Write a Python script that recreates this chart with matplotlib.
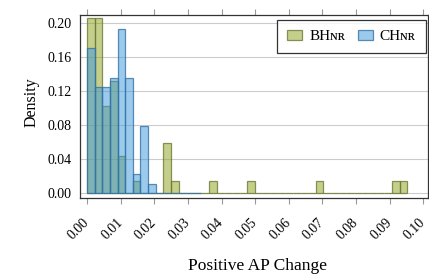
import matplotlib
matplotlib.use("Agg")
import matplotlib.pyplot as plt
from matplotlib.transforms import ScaledTranslation
import numpy as np

# ---- data ----
bin_width = 0.002268
bhnr_heights = [0.206, 0.206, 0.103, 0.132, 0.044, 0.0, 0.0147, 0.0, 0.0, 0.0,
                0.0588, 0.0147, 0.0, 0.0, 0.0, 0.0, 0.0147, 0.0, 0.0, 0.0,
                0.0, 0.0147, 0.0, 0.0, 0.0, 0.0, 0.0, 0.0, 0.0, 0.0,
                0.0147, 0.0, 0.0, 0.0, 0.0, 0.0, 0.0, 0.0, 0.0, 0.0,
                0.0147, 0.0147]
chnr_heights = [0.1705, 0.125, 0.125, 0.136, 0.193, 0.136, 0.0227, 0.0795, 0.0114,
                0.0, 0.0, 0.0, 0.0, 0.0, 0.0]
series_labels = ["BH\u0274\u0280", "CH\u0274\u0280"]
x_ticks = [0.00, 0.01, 0.02, 0.03, 0.04, 0.05, 0.06, 0.07, 0.08, 0.09, 0.10]
y_ticks = [0.00, 0.04, 0.08, 0.12, 0.16, 0.20]

serif = ["Liberation Serif", "DejaVu Serif"]
plt.rcParams["font.family"] = serif

fig = plt.figure(figsize=(4.29, 2.78), dpi=100)
ax = fig.add_axes([0.1865, 0.289, 0.811, 0.658])

green = (0.553, 0.631, 0.098)
blue = (0.224, 0.592, 0.867)

b_left = np.arange(len(bhnr_heights)) * bin_width
c_left = np.arange(len(chnr_heights)) * bin_width
ax.bar(b_left, bhnr_heights, width=bin_width, align="edge",
       facecolor=green + (0.5,), edgecolor=(0.42, 0.47, 0.2, 0.8), linewidth=0.9,
       label=series_labels[0], zorder=2)
ax.bar(c_left, chnr_heights, width=bin_width, align="edge",
       facecolor=blue + (0.5,), edgecolor=(0.2, 0.45, 0.65, 0.8), linewidth=0.9,
       label=series_labels[1], zorder=3)

ax.set_xlim(-0.0021, 0.1014)
ax.set_ylim(-0.0052, 0.21)
ax.set_xticks(x_ticks)
ax.set_xticklabels([f"{v:.2f}" for v in x_ticks], rotation=45, ha="right",
                   va="center", rotation_mode="anchor", fontsize=10)
shift = ScaledTranslation(-5 / 100, 0, fig.dpi_scale_trans)
for lab in ax.get_xticklabels():
    lab.set_transform(lab.get_transform() + shift)
ax.set_yticks(y_ticks)
ax.set_yticklabels([f"{v:.2f}" for v in y_ticks], fontsize=10)
ax.tick_params(axis="x", which="both", direction="out", length=4.5, width=0.8,
               color="#999999", top=True, bottom=True, pad=12)
ax.tick_params(axis="y", length=0, pad=6)
ax.grid(axis="y", color="#cccccc", linewidth=0.8, zorder=0)
ax.set_axisbelow(True)
for s in ax.spines.values():
    s.set_color("#333333")
    s.set_linewidth(0.9)

ax.set_xlabel("Positive AP Change", fontsize=12.5)
ax.xaxis.set_label_coords(0.51, -0.33)
ax.set_ylabel("Density", fontsize=11.5)
ax.yaxis.set_label_coords(-0.115, 0.52)

leg = ax.legend(loc="upper right", ncol=2, fontsize=11, frameon=True, fancybox=False,
                edgecolor="black", handlelength=1.0, handleheight=0.6,
                columnspacing=0.8, handletextpad=0.45, borderpad=0.65,
                bbox_to_anchor=(0.994, 0.971), borderaxespad=0)
leg.get_frame().set_linewidth(0.9)

fig.savefig("out.png", dpi=100)
